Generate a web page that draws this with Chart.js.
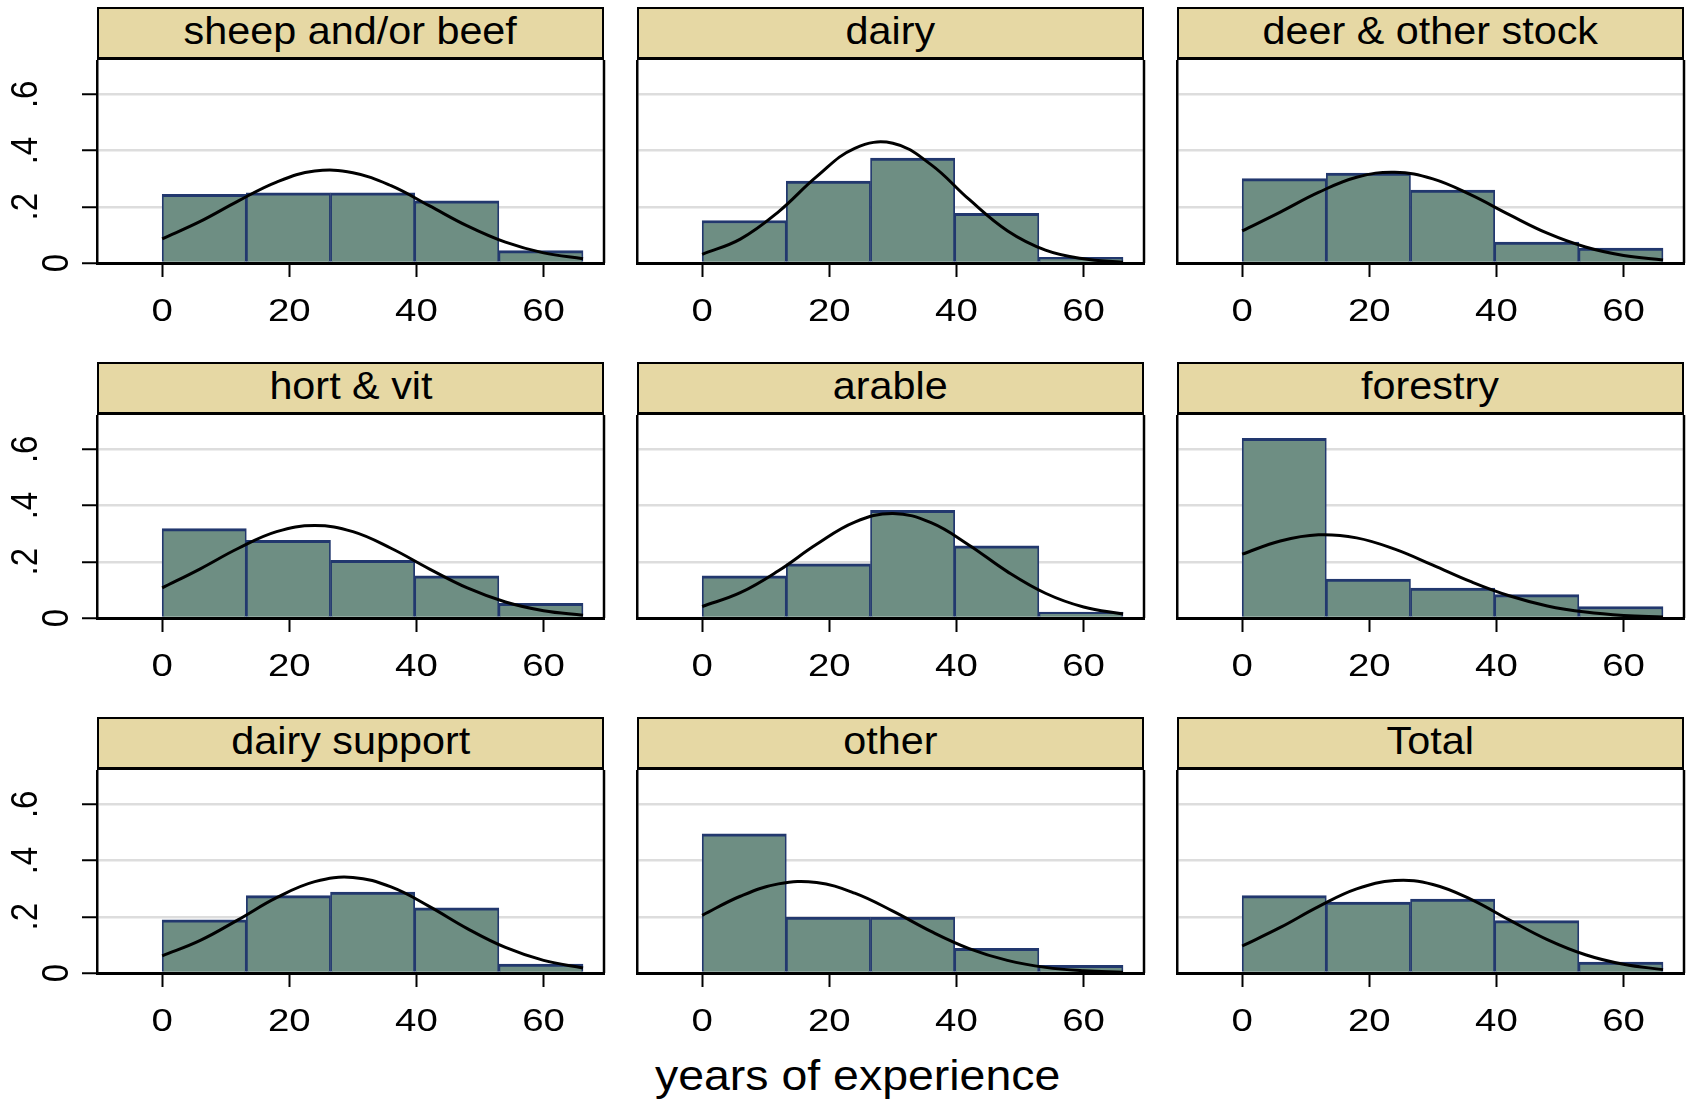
<!DOCTYPE html>
<html>
<head>
<meta charset="utf-8">
<title>Years of experience by farm type</title>
<script src="https://cdn.jsdelivr.net/npm/chart.js@4.4.1/dist/chart.umd.min.js"></script>
<style type="text/css">
	body { margin: 0; background: #fff; width: 1688px; height: 1100px; position: relative; overflow: hidden; }
	.hdr {
		position: absolute; box-sizing: border-box; height: 53px;
		border: 2px solid #000; border-bottom-width: 3px;
		background: #E6D8A4; color: #000; text-align: center;
		font-family: "Liberation Sans", Arial, sans-serif; font-size: 39px; line-height: 44px;
		white-space: nowrap;
	}
	.hdr span, .xtitle span { display: inline-block; transform-origin: center; }
	.hdr span { transform: scaleX(1.06); }
	.xtitle {
		position: absolute; left: 558px; width: 600px; top: 1050px; text-align: center;
		font-family: "Liberation Sans", Arial, sans-serif; font-size: 43px; line-height: 50px; color: #000;
	}
	.xtitle span { transform: scaleX(1.08); }
	canvas { position: absolute; }
</style>
</head>
<body>

<div class="xtitle"><span>years of experience</span></div>

<script type="text/javascript">

	// panels, in reading order
	var categories = ['sheep and/or beef', 'dairy', 'deer & other stock',
		'hort & vit', 'arable', 'forestry',
		'dairy support', 'other', 'Total'];

	// histogram bins (years), 5 bins over 0..66.2
	var binStarts = [0, 13.24, 26.48, 39.72, 52.96];
	var binWidth = 13.24;

	// fraction of respondents in each bin
	var sheepBeef    = [0.244, 0.250, 0.250, 0.221, 0.044];
	var dairy        = [0.151, 0.291, 0.373, 0.177, 0.020];
	var deerOther    = [0.300, 0.320, 0.259, 0.074, 0.053];
	var hortVit      = [0.318, 0.276, 0.205, 0.150, 0.052];
	var arable       = [0.150, 0.193, 0.383, 0.257, 0.021];
	var forestry     = [0.639, 0.138, 0.106, 0.083, 0.041];
	var dairySupport = [0.189, 0.275, 0.288, 0.232, 0.032];
	var other        = [0.495, 0.199, 0.199, 0.088, 0.027];
	var total        = [0.275, 0.252, 0.263, 0.186, 0.039];

	// normal curve at these x positions
	var curveX = [0, 6, 12, 18, 24, 30, 36, 42, 48, 54, 60, 66.2];
	var sheepBeefCurve    = [0.086, 0.148, 0.221, 0.288, 0.327, 0.321, 0.275, 0.204, 0.132, 0.074, 0.036, 0.015];
	var dairyCurve        = [0.031, 0.085, 0.182, 0.307, 0.408, 0.426, 0.350, 0.226, 0.115, 0.046, 0.015, 0.003];
	var deerOtherCurve    = [0.114, 0.181, 0.251, 0.305, 0.323, 0.299, 0.242, 0.172, 0.106, 0.057, 0.027, 0.011];
	var hortVitCurve      = [0.107, 0.175, 0.248, 0.307, 0.329, 0.307, 0.248, 0.175, 0.107, 0.057, 0.026, 0.010];
	var arableCurve       = [0.041, 0.090, 0.168, 0.262, 0.341, 0.372, 0.339, 0.259, 0.165, 0.088, 0.039, 0.014];
	var forestryCurve     = [0.227, 0.274, 0.296, 0.285, 0.245, 0.188, 0.129, 0.079, 0.043, 0.021, 0.009, 0.004];
	var dairySupportCurve = [0.061, 0.116, 0.190, 0.268, 0.325, 0.340, 0.306, 0.237, 0.158, 0.091, 0.045, 0.018];
	var otherCurve        = [0.205, 0.273, 0.317, 0.322, 0.284, 0.220, 0.148, 0.087, 0.045, 0.020, 0.008, 0.003];
	var totalCurve        = [0.096, 0.162, 0.236, 0.299, 0.329, 0.315, 0.262, 0.189, 0.119, 0.065, 0.031, 0.012];

	var xTicks = [0, 20, 40, 60];
	var xTickLabels = ['0', '20', '40', '60'];
	var yTicks = [0, 0.2, 0.4, 0.6];
	var yTickLabels = ['0', '.2', '.4', '.6'];

	var fractions = [sheepBeef, dairy, deerOther, hortVit, arable, forestry, dairySupport, other, total];
	var curves = [sheepBeefCurve, dairyCurve, deerOtherCurve, hortVitCurve, arableCurve, forestryCurve,
		dairySupportCurve, otherCurve, totalCurve];

	var FONT = '"Liberation Sans", Arial, sans-serif';
	var colLeft = [97, 637, 1177];
	var plotW = 507, plotH = 203, canvasH = 300;

	// right edge of the plot box + x tick labels (the original text is a bit wide)
	var framePlugin = {
		id: 'frame',
		afterDraw: function(chart) {
			var a = chart.chartArea, ctx = chart.ctx, xs = chart.scales.x;
			ctx.save();
			ctx.strokeStyle = '#000';
			ctx.lineWidth = 2.5;
			ctx.beginPath();
			ctx.moveTo(a.right, a.top);
			ctx.lineTo(a.right, a.bottom);
			ctx.stroke();
			ctx.restore();

			for (var k = 0; k < xTicks.length; k++) {
				ctx.save();
				ctx.translate(xs.getPixelForValue(xTicks[k]), a.bottom + 58);
				ctx.scale(1.2, 1);
				ctx.font = '32px ' + FONT;
				ctx.fillStyle = '#000';
				ctx.textAlign = 'center';
				ctx.textBaseline = 'alphabetic';
				ctx.fillText(xTickLabels[k], 0, 0);
				ctx.restore();
			}
		}
	};

	// y labels, rotated like the original
	var yLabelPlugin = {
		id: 'ylabels',
		afterDraw: function(chart) {
			var ys = chart.scales.y, ctx = chart.ctx;
			for (var k = 0; k < yTicks.length; k++) {
				var py = ys.getPixelForValue(yTicks[k]);
				var bx = chart.chartArea.left - (yTicks[k] === 0 ? 29 : 60);
				ctx.save();
				ctx.translate(bx, py);
				ctx.rotate(-Math.PI / 2);
				ctx.scale(1, 1.13);
				ctx.font = '33px ' + FONT;
				ctx.fillStyle = '#000';
				ctx.textAlign = 'center';
				ctx.textBaseline = 'alphabetic';
				ctx.fillText(yTickLabels[k], 0, 0);
				ctx.restore();
			}
		}
	};

	function makePanel(i) {
		var r = Math.floor(i / 3), c = i % 3;
		var left = colLeft[c];
		var headerTop = 7 + r * 355;

		var hdr = document.createElement('div');
		hdr.className = 'hdr';
		hdr.style.left = left + 'px';
		hdr.style.top = headerTop + 'px';
		hdr.style.width = plotW + 'px';
		var txt = document.createElement('span');
		txt.textContent = categories[i];
		hdr.appendChild(txt);
		document.body.appendChild(hdr);

		var padL = (c === 0) ? 97 : 20;
		var yW = (c === 0) ? 15 : 0;
		var canvas = document.createElement('canvas');
		canvas.width = padL + plotW + 3;
		canvas.height = canvasH;
		canvas.style.left = (left - padL) + 'px';
		canvas.style.top = (headerTop + 53) + 'px';
		document.body.appendChild(canvas);

		var barData = [];
		for (var k = 0; k < binStarts.length; k++) {
			barData.push({ x: binStarts[k] + binWidth / 2, y: fractions[i][k] });
		}
		var lineData = [];
		for (var k = 0; k < curveX.length; k++) {
			lineData.push({ x: curveX[k], y: curves[i][k] });
		}

		new Chart(canvas.getContext('2d'), {
			type: 'bar',
			data: {
				datasets: [
					{
						type: 'line',
						data: lineData,
						borderColor: '#000',
						borderWidth: 3,
						pointRadius: 0,
						tension: 0.4,
						fill: false,
						order: 0
					},
					{
						type: 'bar',
						data: barData,
						backgroundColor: '#6E8E83',
						borderColor: '#22386E',
						borderWidth: { top: 3, left: 1.75, right: 1.75, bottom: 0 },
						barPercentage: 1,
						categoryPercentage: 1,
						order: 1
					}
				]
			},
			options: {
				responsive: false,
				animation: false,
				events: [],
				layout: { padding: { left: padL - yW, right: 3, top: 0, bottom: 0 } },
				plugins: { legend: { display: false }, tooltip: { enabled: false } },
				scales: {
					x: {
						type: 'linear',
						min: -10.25,
						max: 69.5,
						offset: false,
						afterBuildTicks: function(s) { s.ticks = xTicks.map(function(v) { return { value: v }; }); },
						afterFit: function(s) { s.height = canvasH - plotH; },
						grid: { display: true, offset: false, drawOnChartArea: false, drawTicks: true,
							tickLength: 14, tickColor: '#000', tickWidth: 2 },
						border: { display: true, color: '#000', width: 3 },
						ticks: { display: false }
					},
					y: {
						type: 'linear',
						min: 0,
						max: 0.722,
						afterBuildTicks: function(s) { s.ticks = yTicks.map(function(v) { return { value: v }; }); },
						afterFit: function(s) { s.width = yW; },
						grid: { color: '#DDDDDD', lineWidth: 2.5, drawTicks: c === 0,
							tickLength: 15, tickColor: '#000', tickWidth: 2 },
						border: { display: true, color: '#000', width: 2.5 },
						ticks: { display: false }
					}
				}
			},
			plugins: c === 0 ? [framePlugin, yLabelPlugin] : [framePlugin]
		});
	}

	for (var i = 0; i < categories.length; i++) {
		makePanel(i);
	}

</script>

</body>
</html>
